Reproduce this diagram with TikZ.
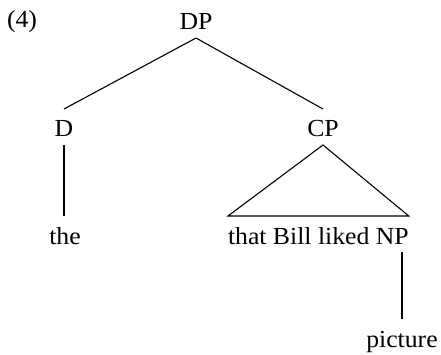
\documentclass[tikz,border=0pt]{standalone}
\usepackage{fontspec}
\setmainfont{Liberation Serif}[FakeStretch=1.05]
\begin{document}
\begin{tikzpicture}[x=1pt,y=-1pt,
  lab/.style={font=\fontsize{24.5}{29}\selectfont, inner sep=0pt,
    outer ysep=8pt, outer xsep=0pt, text height=20pt, text depth=0pt,
    anchor=base},
  branch/.style={line width=1.1pt, line join=miter}]
\useasboundingbox (0,0) rectangle (441,355);

% example number
\node[lab] (ex) at (22,28) {(4)};

% tree nodes
\node[lab] (dp)  at (196,30)  {DP};
\node[lab] (d)   at (64,137)  {D};
\node[lab] (cp)  at (323,137) {CP};
\node[lab] (the) at (65,244)  {the};
\node[lab, anchor=base west] (tbl) at (228,244) {that Bill liked};
\node[lab, anchor=base west] (np) at ([xshift=6.4pt]tbl.base east) {NP};
\node[lab] (pic) at (402,347) {picture};

% branches
\draw[branch] (dp.south) -- (d.north);
\draw[branch] (dp.south) -- (cp.north);
\draw[branch] (d.south) -- (d.south |- the.north);
\draw[branch] (cp.south) -- (tbl.north west) -- (np.north east) -- cycle;
\draw[branch] (pic.north |- np.south) -- (pic.north);
\end{tikzpicture}
\end{document}
